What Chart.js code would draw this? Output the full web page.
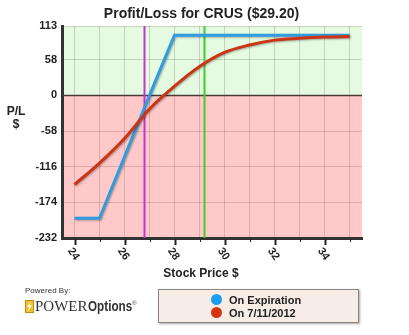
<!DOCTYPE html>
<html>
<head>
<meta charset="utf-8">
<script src="https://cdn.jsdelivr.net/npm/chart.js@4"></script>
<style>
  html, body { margin: 0; padding: 0; background: #fff; }
  #wrap { position: relative; width: 409px; height: 335px; font-family: "Liberation Sans", Arial, sans-serif; }
  #plChart { position: absolute; left: 0; top: 0; }
  #legendBox {
    position: absolute; left: 158px; top: 289px; width: 199px; height: 32px;
    background: #f7ece6; border: 1px solid #8a8480; box-shadow: 1px 1px 2px rgba(0,0,0,0.35);
    font-weight: bold; font-size: 11px; color: #222;
  }
  #legendBox .item { position: absolute; left: 52px; height: 13px; line-height: 13px; white-space: nowrap; }
  #legendBox .dot { display: inline-block; width: 11px; height: 11px; border-radius: 50%; vertical-align: -1px; margin-right: 7px; }
  #logo { position: absolute; left: 25px; top: 286px; color: #333; }
  #logo .by { font-size: 8px; line-height: 9px; }
  #logo .brand { margin-top: 1px; white-space: nowrap; line-height: 15px; }
  #logo .power { font-family: "Liberation Serif", "DejaVu Serif", serif; font-size: 15px; vertical-align: baseline; margin-left: 1px; }
  #logo .opts { display: inline-block; font-weight: bold; font-size: 15px; line-height: 15px; vertical-align: baseline; transform: scaleX(0.78); transform-origin: left center; margin-right: -12px; }
  #logo .reg { font-size: 6px; vertical-align: 6px; }
  #logo svg { vertical-align: -2px; }
</style>
</head>
<body>
<div id="wrap">
  <canvas id="plChart" width="409" height="335"></canvas>
  <div id="logo">
    <div class="by">Powered By:</div>
    <div class="brand"><svg width="9" height="13" viewBox="0 0 9 13"><rect x="0.5" y="0.5" width="8" height="12" fill="#f2c230" stroke="#c98a10" stroke-width="1"/><polygon points="6,1 2,7 4.5,7 2.5,12 7,5.3 4.6,5.3" fill="#fff"/></svg><span class="power">POWER</span><span class="opts">Options</span><span class="reg">®</span></div>
  </div>
  <div id="legendBox">
    <div class="item" style="top:4px"><span class="dot" style="background:#1a9ff0"></span>On Expiration</div>
    <div class="item" style="top:17px"><span class="dot" style="background:#d6330f"></span>On 7/11/2012</div>
  </div>
</div>
<script>
const chartTitle = 'Profit/Loss for CRUS ($29.20)';
const prices      = [24, 25, 26, 27, 28, 29, 30, 31, 32, 33, 34, 35];
const onExpiry    = [-200, -200, -100, 0, 98, 98, 98, 98, 98, 98, 98, 98];
const onDate      = [-145, -110, -70, -22, 15, 47, 70, 82, 90, 93, 95, 96];
const yTickValues = [113, 58, 0, -58, -116, -174, -232];
const xLabelValues = [24, 26, 28, 30, 32, 34];
const markerLines = [
  { value: 26.8, color: '#c832c8' },
  { value: 29.2, color: '#3fcc2e' }
];

const FONT = '"Liberation Sans", Arial, sans-serif';
const toPoints = ys => prices.map((p, i) => ({ x: p, y: ys[i] }));

// background bands, zero line, price markers, axis labels
const decorPlugin = {
  id: 'decor',
  beforeDraw(chart) {
    const { ctx, chartArea: a, scales: { y } } = chart;
    const zeroY = y.getPixelForValue(0);
    ctx.save();
    ctx.fillStyle = '#e4fbe1';
    ctx.fillRect(a.left, a.top, a.right - a.left, zeroY - a.top);
    ctx.fillStyle = '#ffc9c9';
    ctx.fillRect(a.left, zeroY, a.right - a.left, a.bottom - zeroY);
    ctx.restore();
  },
  beforeDatasetsDraw(chart) {
    const { ctx, chartArea: a, scales: { x, y } } = chart;
    ctx.save();
    const zeroY = Math.round(y.getPixelForValue(0)) + 0.5;
    ctx.strokeStyle = '#4a3a36';
    ctx.lineWidth = 1.5;
    ctx.beginPath(); ctx.moveTo(a.left, zeroY); ctx.lineTo(a.right, zeroY); ctx.stroke();
    markerLines.forEach(m => {
      const px = x.getPixelForValue(m.value);
      ctx.strokeStyle = m.color;
      ctx.lineWidth = 2;
      ctx.beginPath(); ctx.moveTo(px, a.top); ctx.lineTo(px, a.bottom); ctx.stroke();
    });
    ctx.restore();
  },
  afterDraw(chart) {
    const { ctx, chartArea: a, scales: { x } } = chart;
    ctx.save();
    ctx.fillStyle = '#222';
    ctx.textAlign = 'center';
    ctx.textBaseline = 'middle';
    ctx.font = 'bold 14px ' + FONT;
    ctx.fillText(chartTitle, 201.5, 14.5);

    ctx.font = 'bold 12px ' + FONT;
    ctx.fillText('P/L', 16, 112);
    ctx.fillText('$', 16, 125);
    ctx.fillText('Stock Price $', 201, 274);

    // tick marks below the axis
    ctx.strokeStyle = '#222';
    prices.forEach(p => {
      const px = Math.round(x.getPixelForValue(p)) + 0.5;
      const major = xLabelValues.includes(p);
      ctx.lineWidth = major ? 2 : 1;
      ctx.beginPath(); ctx.moveTo(px, a.bottom + 1); ctx.lineTo(px, a.bottom + (major ? 7 : 4)); ctx.stroke();
    });

    // rotated price labels
    ctx.font = 'bold 11px ' + FONT;
    xLabelValues.forEach(v => {
      ctx.save();
      ctx.translate(x.getPixelForValue(v) - 1, a.bottom + 16);
      ctx.rotate(Math.PI * 55 / 180);
      ctx.fillText(String(v), 0, 0);
      ctx.restore();
    });
    ctx.restore();
  },
  beforeDatasetDraw(chart) {
    const ctx = chart.ctx;
    ctx.save();
    ctx.shadowColor = 'rgba(0,0,0,0.3)';
    ctx.shadowBlur = 2;
    ctx.shadowOffsetX = 1;
    ctx.shadowOffsetY = 1;
  },
  afterDatasetDraw(chart) {
    chart.ctx.restore();
  }
};

new Chart(document.getElementById('plChart'), {
  type: 'line',
  data: {
    datasets: [
      { label: 'On 7/11/2012', data: toPoints(onDate), borderColor: '#cc3514', borderWidth: 3, pointRadius: 0, cubicInterpolationMode: 'monotone' },
      { label: 'On Expiration', data: toPoints(onExpiry), borderColor: '#2f9ce2', borderWidth: 3, pointRadius: 0, tension: 0 }
    ]
  },
  options: {
    responsive: false,
    animation: false,
    layout: { padding: { top: 26, right: 47, left: 0, bottom: 0 } },
    plugins: { legend: { display: false }, title: { display: false }, tooltip: { enabled: false } },
    scales: {
      x: {
        type: 'linear', min: 23.5, max: 35.5,
        afterBuildTicks: s => { s.ticks = prices.map(v => ({ value: v })); },
        afterFit: s => { s.height = 97; },
        ticks: { display: false },
        grid: { color: 'rgba(90,70,60,0.22)', drawTicks: false },
        border: { color: '#333', width: 3 }
      },
      y: {
        min: -232, max: 113,
        afterBuildTicks: s => { s.ticks = yTickValues.map(v => ({ value: v })); },
        afterFit: s => { s.width = 62; },
        ticks: { color: '#222', font: { family: FONT, size: 11, weight: 'bold' }, padding: 5 },
        grid: { color: 'rgba(90,70,60,0.22)', drawTicks: false },
        border: { color: '#333', width: 3 }
      }
    }
  },
  plugins: [decorPlugin]
});
</script>
</body>
</html>
